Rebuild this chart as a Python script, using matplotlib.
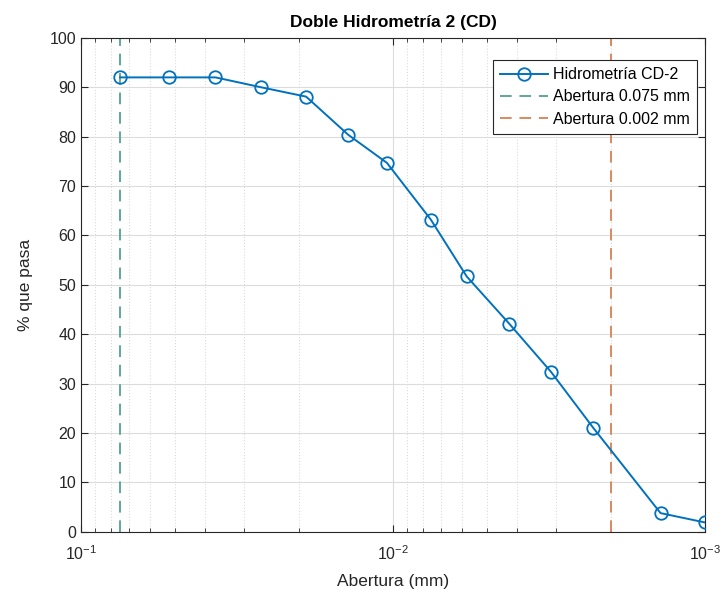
import numpy as np
import matplotlib.pyplot as plt
from matplotlib.ticker import LogLocator, NullFormatter, FixedLocator

plt.rcParams['font.family'] = ['Liberation Sans', 'DejaVu Sans']

# Datos de la doble hidrometria
abertura = [0.075, 0.0521, 0.0371, 0.0265, 0.0190, 0.01394, 0.01047,
            0.00757, 0.00581, 0.00424, 0.00312, 0.00228, 0.00139, 0.001]
pasa = [92.0, 92.0, 92.0, 90.0, 88.1, 80.4, 74.7,
        63.2, 51.7, 42.1, 32.4, 21.0, 3.8, 1.9]
aberturas_ref = [0.075, 0.002]

fig = plt.figure(figsize=(7.24, 6.01), dpi=100)
ax = fig.add_axes([0.112, 0.115, 0.862, 0.822])

ax.plot(abertura, pasa, '-o', color='#0072BD', lw=1.4, ms=9,
        mfc='none', mew=1.3, label='Hidrometría CD-2', zorder=3)
ax.axvline(aberturas_ref[0], color='#5fa896', ls=(0, (6, 4)), lw=1.4,
           label='Abertura 0.075 mm', zorder=2)
ax.axvline(aberturas_ref[1], color='#d98a5f', ls=(0, (6, 4)), lw=1.4,
           label='Abertura 0.002 mm', zorder=2)

ax.set_xscale('log')
ax.set_xlim(0.1, 0.001)
ax.set_ylim(0, 100)
ax.yaxis.set_major_locator(FixedLocator(np.arange(0, 101, 10)))
ax.xaxis.set_major_locator(LogLocator(base=10, numticks=10))
ax.xaxis.set_minor_locator(LogLocator(base=10, subs=np.arange(2, 10), numticks=10))
ax.xaxis.set_minor_formatter(NullFormatter())

ax.grid(True, which='major', color='#dcdcdc', lw=0.8)
ax.grid(True, which='minor', axis='x', color='#dcdcdc', ls=':', lw=0.8)
ax.tick_params(which='both', direction='in', top=True, right=True,
               labelsize=11.5, colors='#262626')
ax.tick_params(which='major', length=5)
ax.tick_params(which='minor', length=3)
ax.tick_params(axis='x', which='major', pad=9)
for s in ax.spines.values():
    s.set_color('#262626')
    s.set_linewidth(0.8)

ax.set_xlabel('Abertura (mm)', fontsize=12.5, color='#262626', labelpad=8)
ax.set_ylabel('% que pasa', fontsize=12.5, color='#262626', labelpad=12)
ax.set_title('Doble Hidrometría 2 (CD)', fontsize=12.5, fontweight='bold', pad=8)

leg = ax.legend(loc='upper right', bbox_to_anchor=(0.987, 0.955),
                fontsize=11.5, fancybox=False, edgecolor='#262626',
                framealpha=1, borderaxespad=0, handlelength=3.0,
                handletextpad=0.3, labelspacing=0.45, borderpad=0.45)
leg.get_frame().set_linewidth(0.8)

fig.savefig('out.png', dpi=100)
